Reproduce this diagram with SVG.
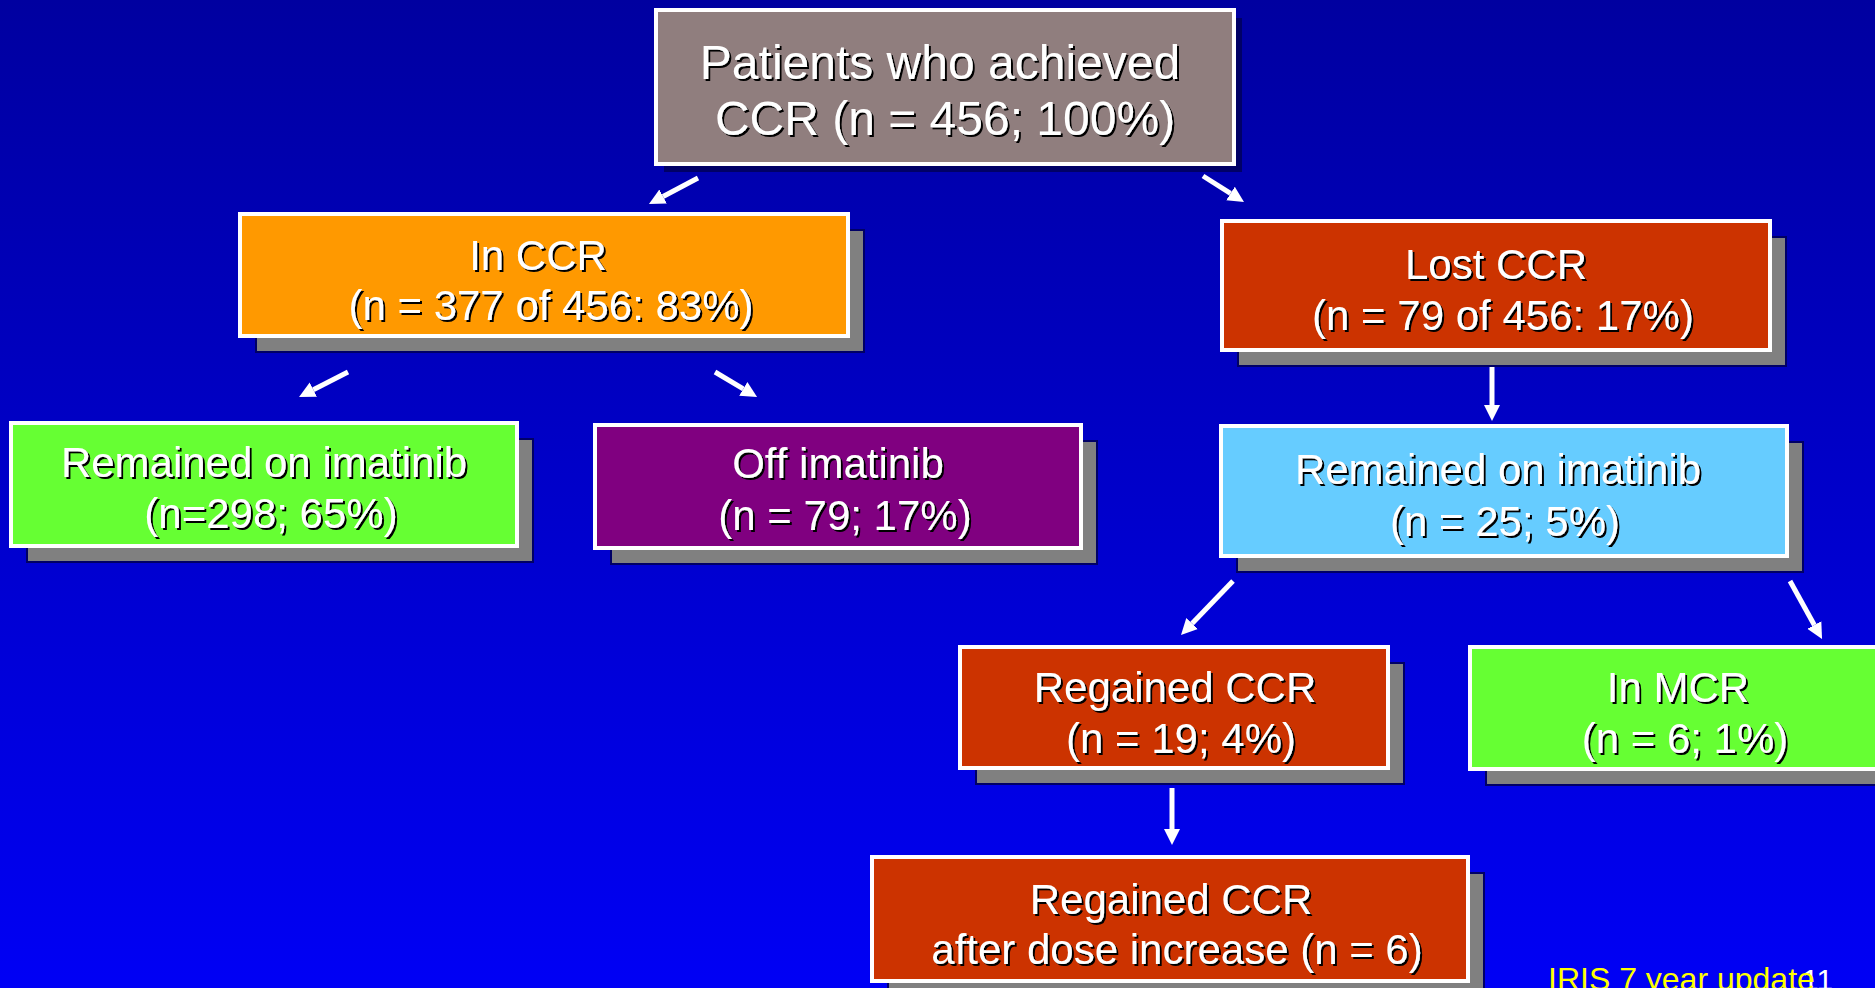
<svg xmlns="http://www.w3.org/2000/svg" width="1875" height="988" viewBox="0 0 1875 988">
<defs>
<linearGradient id="bg" x1="0" y1="0" x2="0" y2="1">
<stop offset="0" stop-color="#0000A0"/>
<stop offset="1" stop-color="#0000F5"/>
</linearGradient>
<filter id="ts" x="-5%" y="-20%" width="110%" height="140%">
<feOffset in="SourceAlpha" dx="2" dy="2" result="o"/>
<feFlood flood-color="#000000"/>
<feComposite in2="o" operator="in" result="s"/>
<feMerge><feMergeNode in="s"/><feMergeNode in="SourceGraphic"/></feMerge>
</filter>
<marker id="ah" markerUnits="userSpaceOnUse" markerWidth="18" markerHeight="18" viewBox="0 -9 18 18" refX="0" refY="0" orient="auto">
<path d="M0,-8 L16,0 L0,8 Z" fill="#FFFFFF"/>
</marker>
</defs>
<style>
.box{stroke:#FFFFFF;stroke-width:4}
.sh{fill:#808080;stroke:#000066;stroke-width:2}
.t{font-family:"Liberation Sans",Arial,sans-serif;fill:#FFFFFF;text-anchor:middle;font-size:42px;filter:url(#ts)}
.tb{font-size:48px}
.ar{stroke:#FFFFFF;stroke-width:5;fill:none;marker-end:url(#ah)}
</style>
<rect x="0" y="0" width="1875" height="988" fill="url(#bg)"/>

<g id="n-top">
<rect x="664" y="18" width="578" height="154" fill="#000066"/>
<rect class="box" x="656" y="10" width="578" height="154" fill="#907E7E"/>
<text class="t tb" x="940" y="79">Patients who achieved</text>
<text class="t tb" x="945" y="135">CCR (n = 456; 100%)</text>
</g>

<g id="n-inccr">
<rect class="sh" x="256" y="230" width="608" height="122"/>
<rect class="box" x="240" y="214" width="608" height="122" fill="#FF9900"/>
<text class="t" x="538" y="270">In CCR</text>
<text class="t" x="551" y="320">(n = 377 of 456: 83%)</text>
</g>

<g id="n-lostccr">
<rect class="sh" x="1238" y="237" width="548" height="129"/>
<rect class="box" x="1222" y="221" width="548" height="129" fill="#CC3300"/>
<text class="t" x="1496" y="279">Lost CCR</text>
<text class="t" x="1503" y="330">(n = 79 of 456: 17%)</text>
</g>

<g id="n-remained1">
<rect class="sh" x="27" y="439" width="506" height="123"/>
<rect class="box" x="11" y="423" width="506" height="123" fill="#66FF33"/>
<text class="t" x="264" y="477">Remained on imatinib</text>
<text class="t" x="271" y="528">(n=298; 65%)</text>
</g>

<g id="n-off">
<rect class="sh" x="611" y="441" width="486" height="123"/>
<rect class="box" x="595" y="425" width="486" height="123" fill="#800080"/>
<text class="t" x="838" y="478">Off imatinib</text>
<text class="t" x="845" y="530">(n = 79; 17%)</text>
</g>

<g id="n-remained2">
<rect class="sh" x="1237" y="442" width="566" height="130"/>
<rect class="box" x="1221" y="426" width="566" height="130" fill="#66CCFF"/>
<text class="t" x="1498" y="484">Remained on imatinib</text>
<text class="t" x="1505" y="536">(n = 25; 5%)</text>
</g>

<g id="n-regained">
<rect class="sh" x="976" y="663" width="428" height="121"/>
<rect class="box" x="960" y="647" width="428" height="121" fill="#CC3300"/>
<text class="t" x="1175" y="702">Regained CCR</text>
<text class="t" x="1181" y="753">(n = 19; 4%)</text>
</g>

<g id="n-inmcr">
<rect class="sh" x="1486" y="663" width="416" height="122"/>
<rect class="box" x="1470" y="647" width="416" height="122" fill="#66FF33"/>
<text class="t" x="1678" y="702">In MCR</text>
<text class="t" x="1685" y="753">(n = 6; 1%)</text>
</g>

<g id="n-dose">
<rect class="sh" x="888" y="873" width="596" height="124"/>
<rect class="box" x="872" y="857" width="596" height="124" fill="#CC3300"/>
<text class="t" x="1171" y="914">Regained CCR</text>
<text class="t" x="1177" y="964">after dose increase (n = 6)</text>
</g>

<g id="connectors">
<line class="ar" x1="698" y1="178" x2="663.1" y2="196.5"/>
<line class="ar" x1="1203" y1="176" x2="1230.5" y2="193.4"/>
<line class="ar" x1="348" y1="372" x2="313.3" y2="389.7"/>
<line class="ar" x1="715" y1="372" x2="743.3" y2="388.8"/>
<line class="ar" x1="1492" y1="367" x2="1492" y2="405"/>
<line class="ar" x1="1233" y1="581" x2="1192.1" y2="623.5"/>
<line class="ar" x1="1790" y1="581" x2="1814.3" y2="625"/>
<line class="ar" x1="1172" y1="788" x2="1172" y2="829"/>
</g>

<g id="footer">
<text x="1802" y="990" font-family="Liberation Sans, Arial, sans-serif" font-size="30" fill="#FFFFFF">11</text>
<text x="1548" y="990" font-family="Liberation Sans, Arial, sans-serif" font-size="32" fill="#FFFF00">IRIS 7 year update</text>
</g>
</svg>
